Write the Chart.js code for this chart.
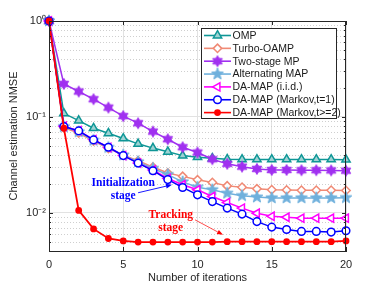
<!DOCTYPE html>
<html><head><meta charset="utf-8">
<script src="https://cdn.jsdelivr.net/npm/chart.js@4/dist/chart.umd.min.js"></script>
<style>html,body{margin:0;padding:0;background:#fff;}#wrap{width:382px;height:286px;}</style>
</head><body><div id="wrap"><canvas id="c" width="382" height="286"></canvas></div>
<script>
// ---------- data ----------
const iterations = [0,1,2,3,4,5,6,7,8,9,10,11,12,13,14,15,16,17,18,19,20];
const seriesNames = ['OMP','Turbo-OAMP','Two-stage MP','Alternating MAP','DA-MAP (i.i.d.)','DA-MAP (Markov,t=1)','DA-MAP (Markov,t>=2)'];
const omp        = [1,0.109,0.0916,0.0763,0.0676,0.0596,0.0524,0.0473,0.0433,0.0395,0.038,0.037,0.0362,0.036,0.036,0.036,0.036,0.036,0.036,0.036,0.0358];
const turboOamp  = [1,0.077,0.068,0.056,0.047,0.040,0.035,0.030,0.026,0.024,0.0221,0.0207,0.0191,0.0185,0.0178,0.0174,0.0173,0.0172,0.0172,0.0172,0.0171];
const twoStageMp = [1,0.221,0.184,0.153,0.125,0.102,0.086,0.0703,0.0585,0.0483,0.0425,0.0362,0.0324,0.0303,0.0287,0.028,0.028,0.0278,0.0278,0.0277,0.0275];
const altMap     = [1,0.079,0.070,0.057,0.048,0.040,0.034,0.029,0.025,0.021,0.0185,0.0174,0.016,0.0151,0.0146,0.0143,0.0143,0.0143,0.0143,0.0143,0.0144];
const daMapIid   = [1,0.080,0.072,0.058,0.048,0.0395,0.033,0.028,0.0228,0.0196,0.0174,0.0148,0.0128,0.0112,0.0099,0.0092,0.009,0.0088,0.0088,0.0088,0.0088];
const daMapT1    = [1,0.0793,0.0715,0.0576,0.0483,0.0395,0.033,0.0275,0.0222,0.0184,0.0154,0.0131,0.0112,0.0097,0.0081,0.0071,0.0067,0.0064,0.0064,0.0063,0.0065];
const daMapT2    = [1,0.0763,0.0106,0.0068,0.0054,0.0051,0.00495,0.00495,0.00495,0.00495,0.00495,0.00495,0.005,0.005,0.005,0.005,0.005,0.005,0.005,0.005,0.0051];
const xTickValues = [0,5,10,15,20];
const yMajorValues = [0.01,0.1,1];
const yMajorLabels = ['10\u207B\u00B2','10\u207B\u00B9','10\u2070'];
const yMinorValues = [0.004,0.005,0.006,0.007,0.008,0.009,0.02,0.03,0.04,0.05,0.06,0.07,0.08,0.09,0.2,0.3,0.4,0.5,0.6,0.7,0.8,0.9];
const yMin = 0.004, yMax = 1;

// ---------- styles ----------
const C = {omp:'#0f9696', turbo:'#f08a75', two:'#a030f0', alt:'#6fb0dc', iid:'#ff00ff', t1:'#0000ff', t2:'#ff0000'};
const AX = '#262626';
const FONT = "'Liberation Sans', Arial, sans-serif";

function starPath(ctx, cx, cy, n, ro, ri){
  ctx.beginPath();
  for (let i=0;i<2*n;i++){
    const r = i%2===0 ? ro : ri;
    const a = -Math.PI/2 + i*Math.PI/n;
    const px = cx + r*Math.cos(a), py = cy + r*Math.sin(a);
    if(i===0) ctx.moveTo(px,py); else ctx.lineTo(px,py);
  }
  ctx.closePath();
}
function makeStar(n, ro, ri, color){
  const s = Math.ceil(ro*2+3);
  const cv = document.createElement('canvas'); cv.width=s; cv.height=s;
  const g = cv.getContext('2d');
  starPath(g, s/2, s/2, n, ro, ri);
  g.fillStyle=color; g.fill(); g.lineWidth=1; g.strokeStyle=color; g.stroke();
  return cv;
}
const hexImg = makeStar(6, 5.5, 3.2, C.two);
const pentImg = makeStar(5, 6.2, 2.6, C.alt);

function drawMarker(ctx, type, x, y){
  ctx.save();
  ctx.setLineDash([]);
  if (type==='omp'){ // triangle up
    const r=4.8; ctx.beginPath();
    ctx.moveTo(x, y-r); ctx.lineTo(x+r*0.866, y+r*0.5); ctx.lineTo(x-r*0.866, y+r*0.5); ctx.closePath();
    ctx.fillStyle='#9fd3d3'; ctx.fill(); ctx.lineWidth=1.5; ctx.strokeStyle=C.omp; ctx.stroke();
  } else if (type==='turbo'){
    const r=4.2; ctx.beginPath();
    ctx.moveTo(x,y-r); ctx.lineTo(x+r,y); ctx.lineTo(x,y+r); ctx.lineTo(x-r,y); ctx.closePath();
    ctx.fillStyle='#fff'; ctx.fill(); ctx.lineWidth=1.5; ctx.strokeStyle=C.turbo; ctx.stroke();
  } else if (type==='two'){
    ctx.drawImage(hexImg, x-hexImg.width/2, y-hexImg.height/2);
  } else if (type==='alt'){
    ctx.drawImage(pentImg, x-pentImg.width/2, y-pentImg.height/2);
  } else if (type==='iid'){
    const r=4.8; ctx.beginPath();
    ctx.moveTo(x-r, y); ctx.lineTo(x+r*0.5, y-r*0.866); ctx.lineTo(x+r*0.5, y+r*0.866); ctx.closePath();
    ctx.fillStyle='#fff'; ctx.fill(); ctx.lineWidth=1.5; ctx.strokeStyle=C.iid; ctx.stroke();
  } else if (type==='t1'){
    ctx.beginPath(); ctx.arc(x,y,3.8,0,Math.PI*2);
    ctx.fillStyle='#fff'; ctx.fill(); ctx.lineWidth=1.5; ctx.strokeStyle=C.t1; ctx.stroke();
  } else if (type==='t2'){
    ctx.beginPath(); ctx.arc(x,y,3.4,0,Math.PI*2);
    ctx.fillStyle=C.t2; ctx.fill();
  }
  ctx.restore();
}

function pts(arr){ return iterations.map((x,i)=>({x:x, y:arr[i]})); }
function ds(label, arr, color, extra, order){
  return Object.assign({
    label, data: pts(arr), borderColor: color, backgroundColor: color,
    borderWidth: 1.5, pointBorderWidth: 1.5, pointHoverRadius: 0,
    tension: 0, clip: false, order
  }, extra);
}

const datasets = [
  ds(seriesNames[0], omp, C.omp, {pointStyle:'triangle', pointRadius:4.8, pointBackgroundColor:'#9fd3d3'}, 6),
  ds(seriesNames[1], turboOamp, C.turbo, {pointStyle:'rectRot', pointRadius:4.2, pointBackgroundColor:'#fff'}, 5),
  ds(seriesNames[2], twoStageMp, C.two, {pointStyle:hexImg, pointRadius:5}, 4),
  ds(seriesNames[3], altMap, C.alt, {pointStyle:pentImg, pointRadius:5}, 3),
  ds(seriesNames[4], daMapIid, C.iid, {pointStyle:'triangle', pointRotation:-90, pointRadius:4.8, pointBackgroundColor:'#fff'}, 2),
  ds(seriesNames[5], daMapT1, C.t1, {pointStyle:'circle', pointRadius:3.8, pointBackgroundColor:'#fff'}, 1),
  ds(seriesNames[6], daMapT2, C.t2, {pointStyle:'circle', pointRadius:3.4, pointBorderWidth:0, borderWidth:1.8}, 0)
];
const markerKeys = ['omp','turbo','two','alt','iid','t1','t2'];
const markerColors = [C.omp,C.turbo,C.two,C.alt,C.iid,C.t1,C.t2];

function arrow(ctx, x0,y0,x1,y1,color,lw,hl,hw){
  ctx.save(); ctx.strokeStyle=color; ctx.fillStyle=color; ctx.lineWidth=lw; ctx.setLineDash([]);
  const a=Math.atan2(y1-y0,x1-x0);
  const bx=x1-hl*Math.cos(a), by=y1-hl*Math.sin(a);
  ctx.beginPath(); ctx.moveTo(x0,y0); ctx.lineTo(bx,by); ctx.stroke();
  ctx.beginPath(); ctx.moveTo(x1,y1);
  ctx.lineTo(bx+hw*Math.sin(a), by-hw*Math.cos(a));
  ctx.lineTo(bx-hw*Math.sin(a), by+hw*Math.cos(a)); ctx.closePath(); ctx.fill();
  ctx.restore();
}

const decor = {
  id:'decor',
  beforeDatasetsDraw(chart){
    const {ctx, chartArea:a, scales:{y}} = chart;
    ctx.save(); ctx.strokeStyle='#cfcfcf'; ctx.lineWidth=1; ctx.setLineDash([1,2]);
    for (const v of yMinorValues){
      const p = Math.round(y.getPixelForValue(v))+0.5;
      ctx.beginPath(); ctx.moveTo(a.left,p); ctx.lineTo(a.right,p); ctx.stroke();
    }
    ctx.restore();
  },
  afterDraw(chart){
    const {ctx, chartArea:a, scales:{x,y}} = chart;
    ctx.save();
    // box
    ctx.strokeStyle=AX; ctx.lineWidth=1; ctx.setLineDash([]);
    ctx.strokeRect(Math.round(a.left)+0.5, Math.round(a.top)+0.5, Math.round(a.right-a.left)-1, Math.round(a.bottom-a.top));
    // inward ticks
    ctx.beginPath();
    for (const v of yMajorValues){ const p=Math.round(y.getPixelForValue(v))+0.5;
      ctx.moveTo(a.left,p); ctx.lineTo(a.left+4,p); ctx.moveTo(a.right,p); ctx.lineTo(a.right-4,p); }
    for (const v of yMinorValues){ const p=Math.round(y.getPixelForValue(v))+0.5;
      ctx.moveTo(a.left,p); ctx.lineTo(a.left+2,p); ctx.moveTo(a.right,p); ctx.lineTo(a.right-2,p); }
    for (const v of xTickValues){ const p=Math.round(x.getPixelForValue(v))+0.5;
      ctx.moveTo(p,a.bottom); ctx.lineTo(p,a.bottom-4); ctx.moveTo(p,a.top); ctx.lineTo(p,a.top+4); }
    ctx.stroke();

    // annotations
    ctx.font = "bold 11.5px 'Liberation Serif', 'Times New Roman', serif";
    ctx.textAlign='center'; ctx.textBaseline='middle';
    ctx.fillStyle=C.t1;
    ctx.fillText('Initialization', x.getPixelForValue(5.0), y.getPixelForValue(0.0205));
    ctx.fillText('stage', x.getPixelForValue(5.0), y.getPixelForValue(0.0151));
    arrow(ctx, x.getPixelForValue(6.0), y.getPixelForValue(0.0162), x.getPixelForValue(8.28), y.getPixelForValue(0.0196), C.t1, 0.9, 6, 2.5);
    ctx.fillStyle=C.t2;
    ctx.fillText('Tracking', x.getPixelForValue(8.2), y.getPixelForValue(0.00953));
    ctx.fillText('stage', x.getPixelForValue(8.2), y.getPixelForValue(0.00698));
    arrow(ctx, x.getPixelForValue(9.83), y.getPixelForValue(0.00846), x.getPixelForValue(11.72), y.getPixelForValue(0.0059), C.t2, 0.7, 6, 2.3);

    // legend
    const lx=201.5, ly=28.5, lw=135, lh=90;
    ctx.fillStyle='#fff'; ctx.fillRect(lx,ly,lw,lh);
    ctx.strokeStyle=AX; ctx.lineWidth=1; ctx.strokeRect(lx,ly,lw,lh);
    ctx.font = "10.5px " + FONT; ctx.textAlign='left'; ctx.textBaseline='middle';
    for (let i=0;i<seriesNames.length;i++){
      const ry = 35.5 + i*12.85;
      ctx.strokeStyle=markerColors[i]; ctx.lineWidth=1.6;
      ctx.beginPath(); ctx.moveTo(204,ry); ctx.lineTo(231,ry); ctx.stroke();
      drawMarker(ctx, markerKeys[i], 217.5, ry);
      ctx.fillStyle='#1a1a1a';
      ctx.fillText(seriesNames[i], 232.5, ry+0.5);
    }
    ctx.restore();
  }
};

new Chart(document.getElementById('c'), {
  type:'line',
  data:{ datasets },
  options:{
    responsive:false, animation:false, devicePixelRatio:1,
    layout:{ padding:{ left:0, right:36, top:21, bottom:0 } },
    plugins:{ legend:{display:false}, tooltip:{enabled:false} },
    elements:{ line:{ fill:false } },
    scales:{
      x:{
        type:'linear', min:0, max:20,
        afterBuildTicks: s => { s.ticks = xTickValues.map(v=>({value:v})); },
        afterFit: s => { s.height = 35; },
        ticks:{ color:AX, font:{family:FONT, size:11}, padding:7, maxRotation:0, autoSkip:false },
        grid:{ color:'#e2e2e2', drawTicks:false, lineWidth:1 },
        border:{ color:AX, width:1 },
        title:{ display:true, text:'Number of iterations', color:AX, font:{family:FONT, size:11}, padding:{top:0, bottom:1.5} }
      },
      y:{
        type:'logarithmic', min:yMin, max:yMax,
        afterBuildTicks: s => { s.ticks = yMajorValues.concat(yMinorValues).sort((p,q)=>p-q).map(v=>({value:v, major: yMajorValues.includes(v)})); },
        afterFit: s => { s.width = 49; },
        ticks:{ color:AX, font:{family:FONT, size:11}, padding:3, autoSkip:false,
          callback: v => { const i = yMajorValues.findIndex(m => Math.abs(m-v) < 1e-9); return i>=0 ? yMajorLabels[i] : ''; } },
        grid:{ drawTicks:false, lineWidth:1,
          color: c => (c.tick && yMajorValues.some(m=>Math.abs(m-c.tick.value)<1e-9)) ? '#e2e2e2' : 'rgba(0,0,0,0)' },
        border:{ color:AX, width:1 },
        title:{ display:true, text:'Channel estimation NMSE', color:AX, font:{family:FONT, size:11}, padding:{top:7.4, bottom:0} }
      }
    }
  },
  plugins:[decor]
});
</script>
</body></html>
